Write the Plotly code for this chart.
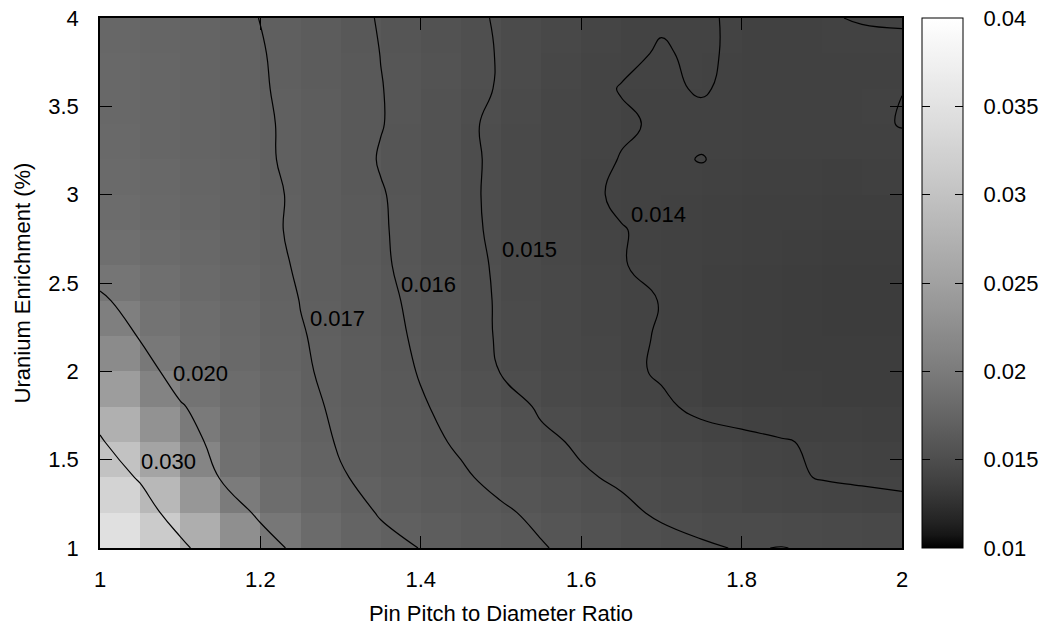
import numpy as np
import plotly.graph_objects as go

# Grid of pin pitch-to-diameter ratios (columns) and enrichments (rows)
pitch_ratio = [1.00, 1.05, 1.10, 1.15, 1.20, 1.25, 1.30, 1.35, 1.40, 1.45, 1.50,
               1.55, 1.60, 1.65, 1.70, 1.75, 1.80, 1.85, 1.90, 1.95, 2.00]
enrichment = [1.0, 1.2, 1.4, 1.6, 1.8, 2.0, 2.2, 2.4, 2.6, 2.8, 3.0, 3.2, 3.4, 3.6, 3.8, 4.0]

# Response value at each grid node, one row per enrichment
row_e10 = [0.0370, 0.0340, 0.0312, 0.0265, 0.0220, 0.0188, 0.0178, 0.0174, 0.01697, 0.0166, 0.01625,
           0.01605, 0.0158, 0.0155, 0.01525, 0.0151, 0.01495, 0.01502, 0.0149, 0.0148, 0.0147]
row_e12 = [0.0355, 0.0325, 0.0275, 0.0228, 0.0192, 0.0182, 0.0176, 0.0169, 0.0166, 0.01635, 0.0161,
           0.01585, 0.0156, 0.01515, 0.0149, 0.0147, 0.01455, 0.01445, 0.01435, 0.01425, 0.01415]
row_e14 = [0.0330, 0.0295, 0.0245, 0.0198, 0.0183, 0.0177, 0.01708, 0.0167, 0.0164, 0.0161, 0.0158,
           0.0155, 0.01508, 0.0149, 0.01465, 0.01445, 0.01425, 0.0141, 0.01397, 0.01392, 0.0139]
row_e16 = [0.0305, 0.0265, 0.0215, 0.0190, 0.0181, 0.0175, 0.0169, 0.0165, 0.0162, 0.0159, 0.0156,
           0.01515, 0.0149, 0.0147, 0.0145, 0.01435, 0.0142, 0.01405, 0.0139, 0.01385, 0.01382]
row_e18 = [0.0280, 0.0240, 0.0202, 0.0188, 0.0180, 0.0173, 0.0168, 0.0164, 0.01607, 0.01575, 0.01535,
           0.0149, 0.0146, 0.01435, 0.01415, 0.0138, 0.01365, 0.01358, 0.01355, 0.01355, 0.01355]
row_e20 = [0.0250, 0.0210, 0.0190, 0.0183, 0.0178, 0.01715, 0.0167, 0.01635, 0.01595, 0.0155, 0.01497,
           0.01465, 0.0144, 0.0142, 0.0139, 0.01375, 0.01362, 0.01355, 0.0135, 0.0135, 0.0135]
row_e22 = [0.0225, 0.0198, 0.0188, 0.0181, 0.0177, 0.01705, 0.01675, 0.0163, 0.01585, 0.0154, 0.0149,
           0.0146, 0.01435, 0.01415, 0.01395, 0.01375, 0.0136, 0.0135, 0.01345, 0.01345, 0.01345]
row_e24 = [0.0203, 0.0192, 0.0185, 0.0180, 0.0175, 0.01698, 0.01665, 0.0162, 0.0158, 0.01535, 0.0149,
           0.0146, 0.01437, 0.01418, 0.01398, 0.01375, 0.0136, 0.0135, 0.01345, 0.01342, 0.01342]
row_e26 = [0.0192, 0.0186, 0.0181, 0.0177, 0.0173, 0.0169, 0.01655, 0.0161, 0.01575, 0.01535, 0.01485,
           0.01455, 0.0143, 0.01403, 0.01385, 0.01375, 0.01365, 0.01355, 0.01348, 0.01345, 0.01345]
row_e28 = [0.0186, 0.0182, 0.0178, 0.0175, 0.0172, 0.01685, 0.0165, 0.01608, 0.0157, 0.01525, 0.0148,
           0.0145, 0.01425, 0.01402, 0.0139, 0.0138, 0.0137, 0.01362, 0.01355, 0.0135, 0.0135]
row_e30 = [0.0183, 0.0180, 0.0177, 0.0174, 0.01715, 0.0169, 0.0165, 0.01605, 0.0157, 0.01525, 0.01475,
           0.0144, 0.01412, 0.01392, 0.01385, 0.01382, 0.01378, 0.01372, 0.01365, 0.01362, 0.01362]
row_e32 = [0.0181, 0.0178, 0.0176, 0.0173, 0.0171, 0.01685, 0.0164, 0.01595, 0.01565, 0.01525, 0.01478,
           0.01445, 0.01418, 0.01398, 0.0139, 0.01402, 0.01385, 0.01378, 0.01372, 0.01375, 0.01385]
row_e34 = [0.0180, 0.0177, 0.0175, 0.0173, 0.01712, 0.0168, 0.01645, 0.01603, 0.0157, 0.01522, 0.01475,
           0.01445, 0.01422, 0.01406, 0.01394, 0.01388, 0.01385, 0.01384, 0.01386, 0.0139, 0.01402]
row_e36 = [0.0179, 0.0177, 0.0175, 0.0173, 0.01708, 0.01675, 0.0164, 0.01602, 0.01575, 0.0154, 0.0149,
           0.01455, 0.01415, 0.01398, 0.01392, 0.01404, 0.01388, 0.01382, 0.0138, 0.01385, 0.013995]
row_e38 = [0.0179, 0.0177, 0.0175, 0.0173, 0.01705, 0.01672, 0.01638, 0.01599, 0.01572, 0.0154, 0.01492,
           0.0146, 0.0143, 0.0141, 0.01396, 0.01408, 0.0139, 0.01384, 0.01382, 0.01382, 0.01386]
row_e40 = [0.0178, 0.0176, 0.0174, 0.0172, 0.01699, 0.01668, 0.01632, 0.01594, 0.01565, 0.0153, 0.01488,
           0.0146, 0.01435, 0.01418, 0.01405, 0.01408, 0.0139, 0.01386, 0.01395, 0.01404, 0.01406]

# Contour levels that are drawn and labelled
contour_levels = [0.014, 0.015, 0.016, 0.017, 0.020, 0.030]
# Where each level's label sits (x, y)
label_pos = {0.014: (1.696, 2.89), 0.015: (1.535, 2.69), 0.016: (1.410, 2.49),
             0.017: (1.296, 2.30), 0.020: (1.125, 1.99), 0.030: (1.085, 1.49)}

x_ticks = [1, 1.2, 1.4, 1.6, 1.8, 2]
x_tick_text = ["1", "1.2", "1.4", "1.6", "1.8", "2"]
y_ticks = [1, 1.5, 2, 2.5, 3, 3.5, 4]
y_tick_text = ["1", "1.5", "2", "2.5", "3", "3.5", "4"]
cb_ticks = [0.01, 0.015, 0.02, 0.025, 0.03, 0.035, 0.04]
cb_tick_text = ["0.01", "0.015", "0.02", "0.025", "0.03", "0.035", "0.04"]
z_min, z_max = 0.01, 0.04

grid = np.array([row_e10, row_e12, row_e14, row_e16, row_e18, row_e20, row_e22, row_e24,
                 row_e26, row_e28, row_e30, row_e32, row_e34, row_e36, row_e38, row_e40])

# Each facet is coloured by the mean of its four corner nodes
facets = (grid[:-1, :-1] + grid[1:, :-1] + grid[:-1, 1:] + grid[1:, 1:]) / 4.0

# Gray palette with gamma 1.5
stops = np.linspace(0, 1, 41)
gray_scale = [[float(t), "rgb({0},{0},{0})".format(int(round(255 * t ** (1 / 1.5))))] for t in stops]
clear_scale = [[0, "rgba(0,0,0,0)"], [1, "rgba(0,0,0,0)"]]

FONT = "Liberation Sans, Arial, Helvetica, sans-serif"
FS = 22
PLOT_W = 802  # width of the plotting area in px
CB_X = 1.0249
CB_THICK = 41

fig = go.Figure()

fig.add_trace(go.Heatmap(
    x=pitch_ratio, y=enrichment, z=facets,
    zmin=z_min, zmax=z_max, colorscale=gray_scale, zsmooth=False,
    hoverinfo="skip",
    colorbar=dict(
        x=CB_X, xanchor="left", xpad=0, y=0.5, yanchor="middle", ypad=0,
        len=1, lenmode="fraction", thickness=CB_THICK, thicknessmode="pixels",
        outlinewidth=1, outlinecolor="black",
        tickmode="array", tickvals=cb_ticks, ticktext=cb_tick_text,
        ticks="outside", ticklen=16, tickcolor="rgba(0,0,0,0)",
        tickfont=dict(family=FONT, size=FS, color="black"),
    ),
))

for lvl in contour_levels:
    fig.add_trace(go.Contour(
        x=pitch_ratio, y=enrichment, z=grid,
        autocontour=False,
        contours=dict(start=lvl, end=lvl, size=0.001, coloring="none"),
        line=dict(color="black", width=1.2, smoothing=1.3),
        showscale=False, hoverinfo="skip",
    ))
    lx, ly = label_pos[lvl]
    fig.add_annotation(x=lx, y=ly, text=f"{lvl:.3f}", showarrow=False,
                       font=dict(family=FONT, size=FS, color="black"),
                       xanchor="center", yanchor="middle")

# Tick dashes on the inner edges of the colour bar: two clear colour bars laid on top
inner_ticks = cb_ticks[1:-1]
tick_bar_common = dict(y=0.5, yanchor="middle", ypad=0, xpad=0, xanchor="left",
                       len=1, lenmode="fraction", thicknessmode="pixels", outlinewidth=0,
                       tickmode="array", tickvals=inner_ticks, showticklabels=False,
                       ticklen=8, tickwidth=1, tickcolor="black")
fig.add_trace(go.Scatter(
    x=[None], y=[None], mode="markers", hoverinfo="skip", showlegend=False,
    marker=dict(color=[z_min], cmin=z_min, cmax=z_max, colorscale=clear_scale, showscale=True,
                colorbar=dict(x=CB_X, thickness=CB_THICK, ticks="inside", **tick_bar_common)),
))
fig.add_trace(go.Scatter(
    x=[None], y=[None], mode="markers", hoverinfo="skip", showlegend=False,
    marker=dict(color=[z_min], cmin=z_min, cmax=z_max, colorscale=clear_scale, showscale=True,
                colorbar=dict(x=CB_X - 1 / PLOT_W, thickness=1, ticks="outside", **tick_bar_common)),
))

axis_common = dict(showgrid=False, zeroline=False, showline=True, linecolor="black", linewidth=1.5,
                   mirror="ticks", ticks="inside", ticklen=12, tickwidth=1, tickcolor="black",
                   tickfont=dict(family=FONT, size=FS, color="black"))

fig.update_layout(
    width=1045, height=631,
    margin=dict(l=100, r=143, t=18, b=83, autoexpand=False),
    paper_bgcolor="white", plot_bgcolor="white",
    showlegend=False,
    xaxis=dict(range=[1, 2], tickmode="array", tickvals=x_ticks, ticktext=x_tick_text,
               ticklabelstandoff=11,
               title=dict(text="Pin Pitch to Diameter Ratio", standoff=14,
                          font=dict(family=FONT, size=FS, color="black")),
               **axis_common),
    yaxis=dict(range=[1, 4], tickmode="array", tickvals=y_ticks, ticktext=y_tick_text,
               ticklabelstandoff=15,
               title=dict(text="Uranium Enrichment (%)", standoff=12,
                          font=dict(family=FONT, size=FS, color="black")),
               **axis_common),
)

fig.write_html("out.html")
